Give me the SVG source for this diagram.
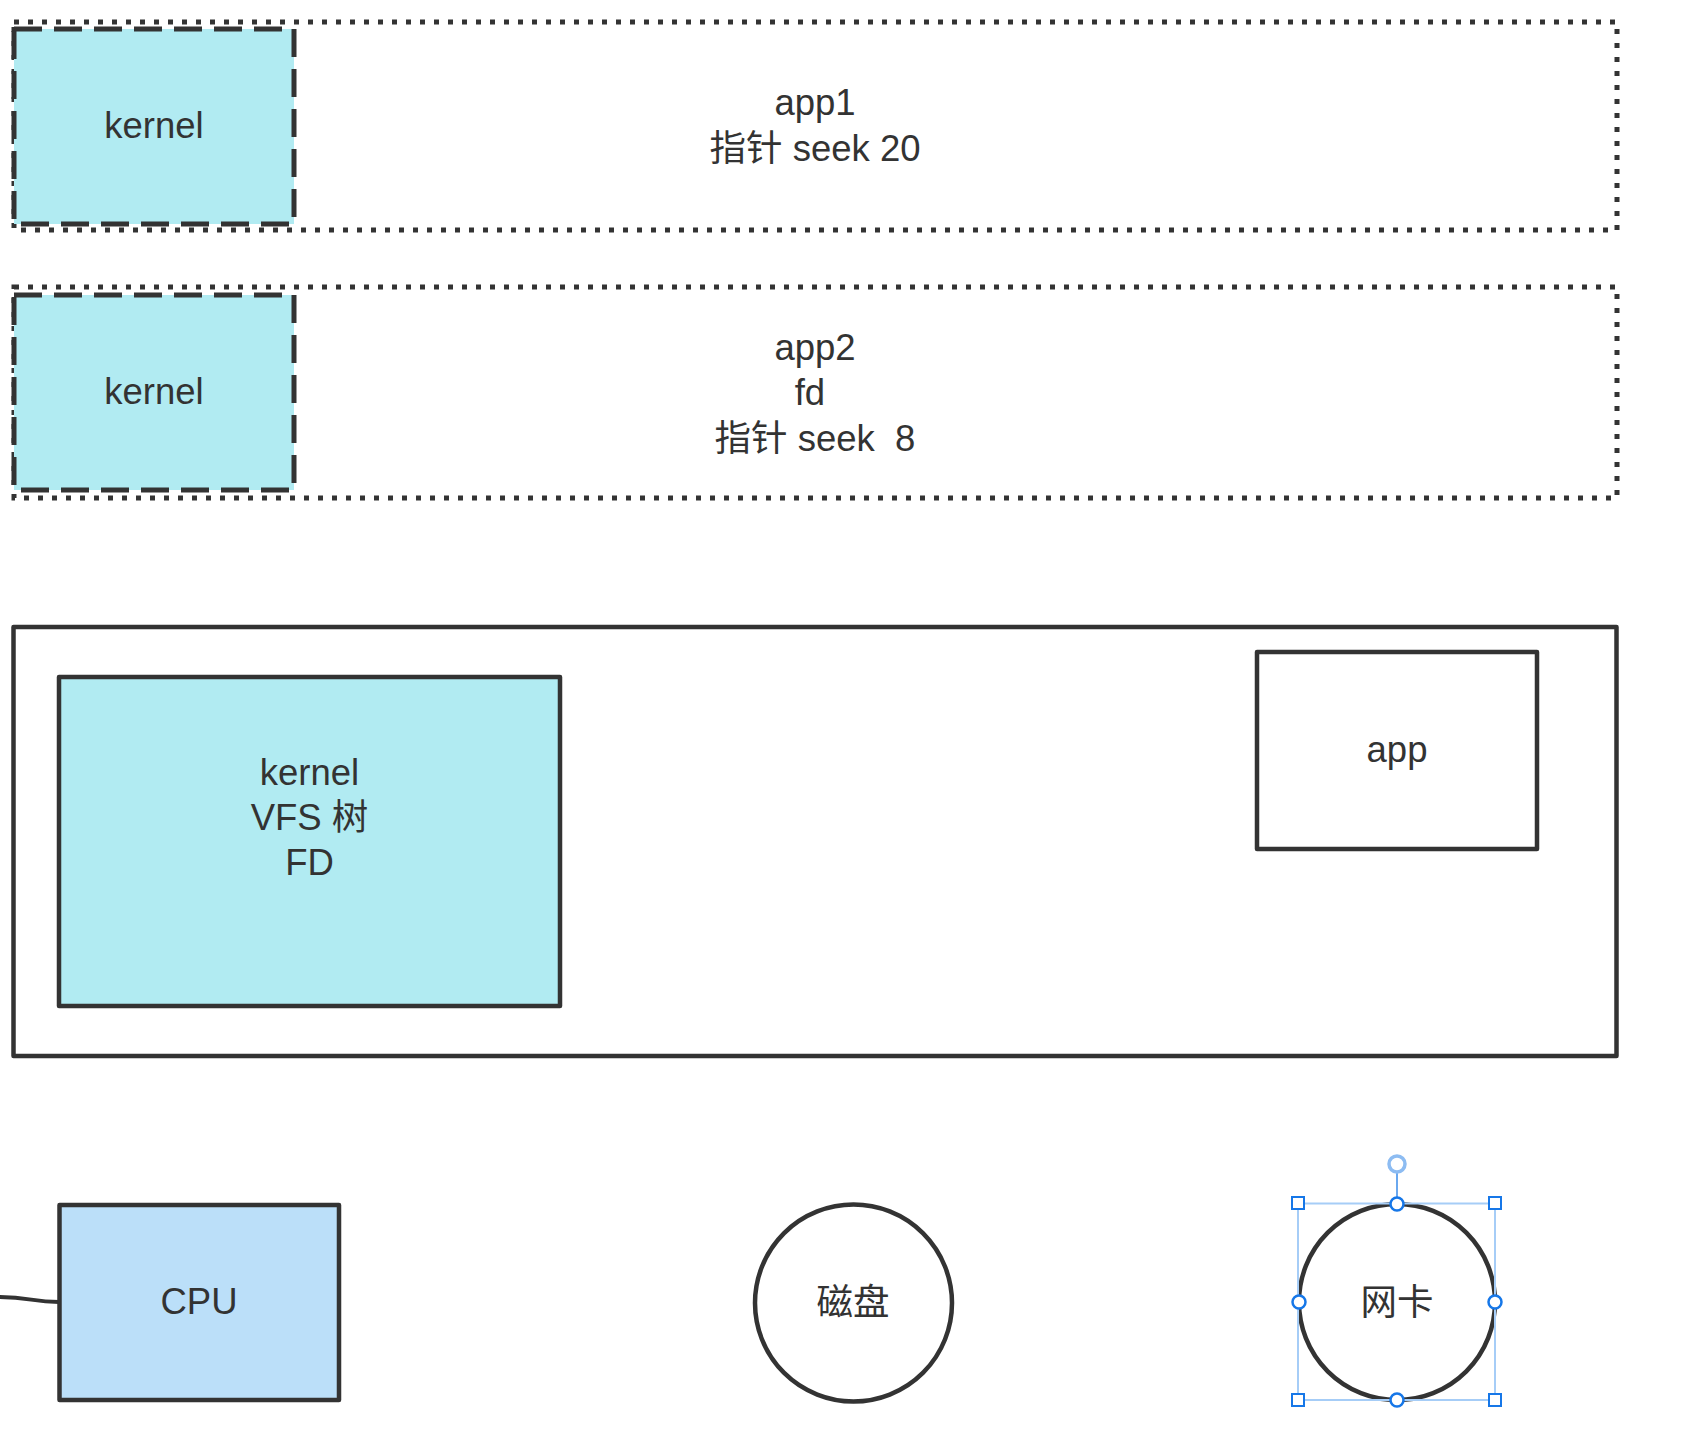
<svg xmlns="http://www.w3.org/2000/svg" width="1708" height="1452" viewBox="0 0 1708 1452">
<style>
  .t { font-family: "Liberation Sans", "Noto Sans CJK SC", sans-serif; font-size: 36.5px; fill: #333333; text-anchor: middle; }
  .dotted { fill: none; stroke: #333333; stroke-width: 5; stroke-dasharray: 5 9; }
  .dashed { fill: #b1ebf2; stroke: #333333; stroke-width: 5; stroke-dasharray: 28 12; }
  .solid { stroke: #333333; stroke-width: 4.5; stroke-linejoin: round; }
  .sel { fill: none; stroke: #a6cdf7; stroke-width: 2; }
  .hsq { fill: #ffffff; stroke: #1677e8; stroke-width: 2; }
  .hci { fill: #ffffff; stroke: #1677e8; stroke-width: 2.5; }
</style>
<rect width="1708" height="1452" fill="#ffffff"/>

<g id="app1">
  <rect class="dotted" x="14" y="22" width="1603" height="208"/>
  <text class="t" x="815" y="115">app1</text>
  <text class="t" x="815" y="161">指针 seek 20</text>
</g>
<g id="kernel1">
  <rect class="dashed" x="14" y="29" width="280" height="195"/>
  <text class="t" x="154" y="138">kernel</text>
</g>

<g id="app2">
  <rect class="dotted" x="14" y="287" width="1603" height="211"/>
  <text class="t" x="815" y="360">app2</text>
  <text class="t" x="815" y="405" xml:space="preserve">fd </text>
  <text class="t" x="815" y="451" xml:space="preserve">指针 seek  8</text>
</g>
<g id="kernel2">
  <rect class="dashed" x="14" y="295" width="280" height="195"/>
  <text class="t" x="154" y="404">kernel</text>
</g>

<g id="system">
  <rect class="solid" fill="#ffffff" x="13.5" y="627" width="1603" height="429"/>
</g>
<g id="kernel-vfs">
  <rect class="solid" fill="#b1ebf2" x="59" y="677" width="501" height="329"/>
  <text class="t" x="309.5" y="785">kernel</text>
  <text class="t" x="309.5" y="830">VFS 树</text>
  <text class="t" x="309.5" y="875">FD</text>
</g>
<g id="app">
  <rect class="solid" fill="#ffffff" x="1257" y="652" width="280" height="197"/>
  <text class="t" x="1397" y="762">app</text>
</g>

<g id="connectors">
  <path d="M0,1297 C30,1297 32,1302 59,1302" fill="none" stroke="#333333" stroke-width="4"/>
</g>

<g id="cpu">
  <rect class="solid" fill="#bbdff9" x="59.5" y="1205" width="279.5" height="195"/>
  <text class="t" x="199" y="1314">CPU</text>
</g>
<g id="disk">
  <circle cx="853.5" cy="1303" r="98.5" fill="#ffffff" stroke="#333333" stroke-width="4.5"/>
  <text class="t" x="853" y="1315">磁盘</text>
</g>
<g id="nic">
  <circle cx="1397" cy="1302" r="98" fill="#ffffff" stroke="#333333" stroke-width="4.5"/>
  <text class="t" x="1397" y="1315">网卡</text>
  <rect class="sel" x="1298" y="1203.5" width="197" height="196.5"/>
  <line x1="1397" y1="1173" x2="1397" y2="1197" stroke="#6aa8ef" stroke-width="2"/>
  <circle cx="1397" cy="1164" r="8" fill="#ffffff" stroke="#8dbcf2" stroke-width="3.5"/>
  <rect class="hsq" x="1292" y="1197" width="12" height="12"/>
  <rect class="hsq" x="1489" y="1197" width="12" height="12"/>
  <rect class="hsq" x="1292" y="1394" width="12" height="12"/>
  <rect class="hsq" x="1489" y="1394" width="12" height="12"/>
  <circle class="hci" cx="1397" cy="1204" r="6.5"/>
  <circle class="hci" cx="1299" cy="1302" r="6.5"/>
  <circle class="hci" cx="1495" cy="1302" r="6.5"/>
  <circle class="hci" cx="1397" cy="1400" r="6.5"/>
</g>
</svg>
